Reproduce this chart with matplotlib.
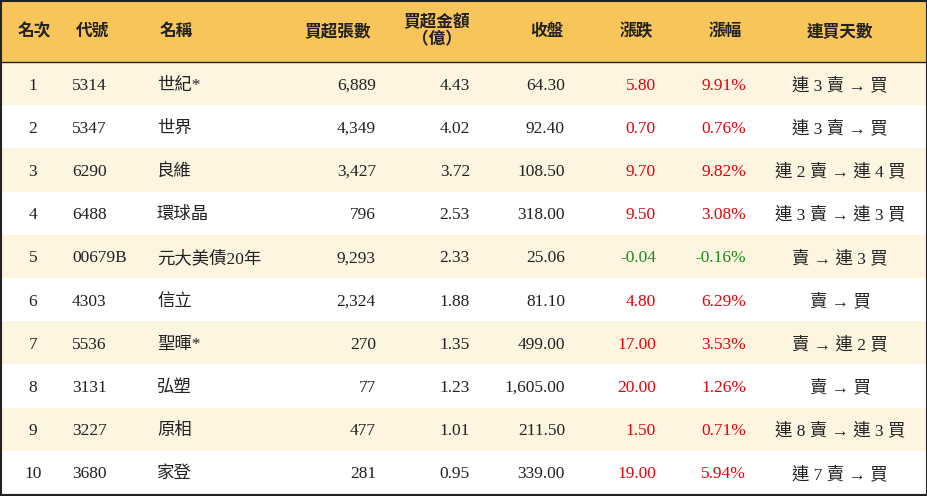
import matplotlib
matplotlib.use("Agg")
import matplotlib.pyplot as plt
from matplotlib.patches import Rectangle

headers = ["名次", "代號", "名稱", "買超張數", "買超金額\n（億）", "收盤", "漲跌", "漲幅", "連買天數"]
ranks = ["1", "2", "3", "4", "5", "6", "7", "8", "9", "10"]
codes = ["5314", "5347", "6290", "6488", "00679B", "4303", "5536", "3131", "3227", "3680"]
names = ["世紀*", "世界", "良維", "環球晶", "元大美債20年", "信立", "聖暉*", "弘塑", "原相", "家登"]
net_lots = [6889, 4349, 3427, 796, 9293, 2324, 270, 77, 477, 281]
net_amount = [4.43, 4.02, 3.72, 2.53, 2.33, 1.88, 1.35, 1.23, 1.01, 0.95]
close = [64.30, 92.40, 108.50, 318.00, 25.06, 81.10, 499.00, 1605.00, 211.50, 339.00]
change = [5.80, 0.70, 9.70, 9.50, -0.04, 4.80, 17.00, 20.00, 1.50, 19.00]
pct = [9.91, 0.76, 9.82, 3.08, -0.16, 6.29, 3.53, 1.26, 0.71, 5.94]
streak = ["連 3 賣 → 買", "連 3 賣 → 買", "連 2 賣 → 連 4 買", "連 3 賣 → 連 3 買", "賣 → 連 3 買",
          "賣 → 買", "賣 → 連 2 買", "賣 → 買", "連 8 賣 → 連 3 買", "連 7 賣 → 買"]

W, H = 928, 496
fig = plt.figure(figsize=(W/100, H/100), dpi=100)
ax = fig.add_axes([0, 0, 1, 1])
ax.set_xlim(0, W); ax.set_ylim(H, 0); ax.axis("off")

FONT = ["Liberation Serif", "Noto Sans CJK TC"]
HFONT = ["Noto Sans CJK TC"]
head_h = 62
row_h = (H - 2 - head_h) / len(ranks)

ax.add_patch(Rectangle((0, 0), W, head_h, color="#F8C55A", lw=0))
ax.plot([0, W], [head_h, head_h], color="#222222", lw=1)

cols = [(33, "center"), (72, "left"), (157, "left"), (376, "right"), (470, "right"),
        (565, "right"), (656, "right"), (746, "right"), (840, "center")]
hcols = [(34, "center"), (92, "center"), (176, "center"), (338, "center"), (437, "center"),
         (547, "center"), (636, "center"), (725, "center"), (840, "center")]
for (x, ha), h in zip(hcols, headers):
    ax.text(x, head_h/2, h, ha=ha, va="center", fontsize=12, fontfamily=HFONT,
            fontweight="bold", color="#222222", linespacing=0.95)

def col(v):
    return "#E8000B" if v > 0 else "#1A8A1A"

for i in range(len(ranks)):
    y0 = head_h + i*row_h
    yc = y0 + row_h/2
    if i % 2 == 0:
        ax.add_patch(Rectangle((0, y0), W, row_h, color="#FDF5E0", lw=0))
    vals = [ranks[i], codes[i], names[i], f"{net_lots[i]:,}", f"{net_amount[i]:.2f}",
            f"{close[i]:,.2f}", f"{change[i]:.2f}", f"{pct[i]:.2f}%", streak[i]]
    colors = ["#222222"]*6 + [col(change[i]), col(pct[i]), "#222222"]
    for (x, ha), v, c in zip(cols, vals, colors):
        ax.text(x, yc, v, ha=ha, va="center_baseline", fontsize=12.5, fontfamily=FONT, color=c)

ax.add_patch(Rectangle((0.5, 0.5), W-1, H-1.5, fill=False, ec="#222222", lw=1.5))
fig.savefig("out.png", dpi=100)
